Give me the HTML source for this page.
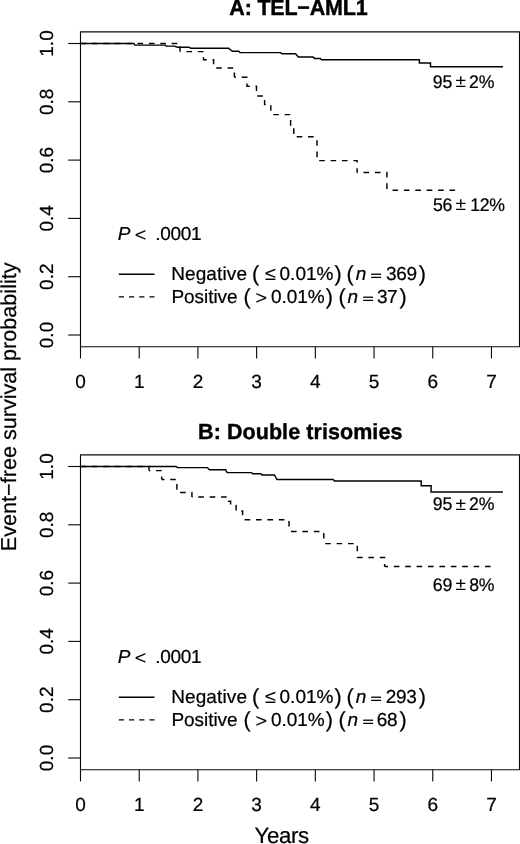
<!DOCTYPE html>
<html><head><meta charset="utf-8"><title>Event-free survival</title>
<style>
html,body{margin:0;padding:0;background:#fff;}
svg{display:block;will-change:transform;}
text{font-family:"Liberation Sans",sans-serif;fill:#000;text-rendering:geometricPrecision;stroke:#000;stroke-width:0.22px;}
</style></head>
<body>
<svg width="520" height="844" viewBox="0 0 520 844">
<rect width="520" height="844" fill="#fff"/>
<path d="M80.5,31.85 H519.5 V346.8 H80.5 Z" fill="none" stroke="#0a0a0a" stroke-width="1.12"/>
<line x1="68.2" y1="43.50" x2="80.5" y2="43.50" stroke="#0a0a0a" stroke-width="1.12"/>
<line x1="68.2" y1="101.80" x2="80.5" y2="101.80" stroke="#0a0a0a" stroke-width="1.12"/>
<line x1="68.2" y1="160.10" x2="80.5" y2="160.10" stroke="#0a0a0a" stroke-width="1.12"/>
<line x1="68.2" y1="218.40" x2="80.5" y2="218.40" stroke="#0a0a0a" stroke-width="1.12"/>
<line x1="68.2" y1="276.70" x2="80.5" y2="276.70" stroke="#0a0a0a" stroke-width="1.12"/>
<line x1="68.2" y1="335.00" x2="80.5" y2="335.00" stroke="#0a0a0a" stroke-width="1.12"/>
<text font-size="19" transform="translate(52.9,43.50) rotate(-90) scale(1,1.0)" text-anchor="middle">1.0</text>
<text font-size="19" transform="translate(52.9,101.80) rotate(-90) scale(1,1.0)" text-anchor="middle">0.8</text>
<text font-size="19" transform="translate(52.9,160.10) rotate(-90) scale(1,1.0)" text-anchor="middle">0.6</text>
<text font-size="19" transform="translate(52.9,218.40) rotate(-90) scale(1,1.0)" text-anchor="middle">0.4</text>
<text font-size="19" transform="translate(52.9,276.70) rotate(-90) scale(1,1.0)" text-anchor="middle">0.2</text>
<text font-size="19" transform="translate(52.9,335.00) rotate(-90) scale(1,1.0)" text-anchor="middle">0.0</text>
<line x1="80.50" y1="346.8" x2="80.50" y2="358.50" stroke="#0a0a0a" stroke-width="1.12"/>
<text font-size="19" transform="translate(80.50,388.25) scale(1,1.0)" text-anchor="middle">0</text>
<line x1="139.21" y1="346.8" x2="139.21" y2="358.50" stroke="#0a0a0a" stroke-width="1.12"/>
<text font-size="19" transform="translate(139.21,388.25) scale(1,1.0)" text-anchor="middle">1</text>
<line x1="197.92" y1="346.8" x2="197.92" y2="358.50" stroke="#0a0a0a" stroke-width="1.12"/>
<text font-size="19" transform="translate(197.92,388.25) scale(1,1.0)" text-anchor="middle">2</text>
<line x1="256.63" y1="346.8" x2="256.63" y2="358.50" stroke="#0a0a0a" stroke-width="1.12"/>
<text font-size="19" transform="translate(256.63,388.25) scale(1,1.0)" text-anchor="middle">3</text>
<line x1="315.34" y1="346.8" x2="315.34" y2="358.50" stroke="#0a0a0a" stroke-width="1.12"/>
<text font-size="19" transform="translate(315.34,388.25) scale(1,1.0)" text-anchor="middle">4</text>
<line x1="374.05" y1="346.8" x2="374.05" y2="358.50" stroke="#0a0a0a" stroke-width="1.12"/>
<text font-size="19" transform="translate(374.05,388.25) scale(1,1.0)" text-anchor="middle">5</text>
<line x1="432.76" y1="346.8" x2="432.76" y2="358.50" stroke="#0a0a0a" stroke-width="1.12"/>
<text font-size="19" transform="translate(432.76,388.25) scale(1,1.0)" text-anchor="middle">6</text>
<line x1="491.47" y1="346.8" x2="491.47" y2="358.50" stroke="#0a0a0a" stroke-width="1.12"/>
<text font-size="19" transform="translate(491.47,388.25) scale(1,1.0)" text-anchor="middle">7</text>
<path d="M80.50,43.50 L133.90,43.50 L134.90,45.10 L165.20,45.10 L166.50,46.10 L174.20,46.10 L177.60,47.30 L189.10,47.30 L191.00,48.30 L228.60,48.30 L232.40,51.30 L238.70,51.30 L240.10,52.60 L280.65,52.60 L282.00,53.80 L295.60,53.80 L298.30,57.00 L313.00,57.00 L314.50,58.40 L320.20,58.40 L321.50,59.70 L419.40,59.70 L419.40,62.90 L430.50,62.90 L430.50,66.70 L503.00,66.70" fill="none" stroke="#000" stroke-width="1.45" stroke-linejoin="miter"/>
<path d="M80.50,43.50 L180.00,43.50 L180.00,51.60" fill="none" stroke="#000" stroke-width="1.45" stroke-dasharray="5.6 5.8" stroke-dashoffset="0.00"/>
<path d="M180.00,51.60 L203.50,51.60 L203.50,59.70 L213.60,59.70 L213.60,68.00" fill="none" stroke="#000" stroke-width="1.45" stroke-dasharray="5.6 5.8" stroke-dashoffset="5.00"/>
<path d="M213.60,68.00 L234.40,68.00 L234.40,77.30" fill="none" stroke="#000" stroke-width="1.45" stroke-dasharray="5.6 5.8" stroke-dashoffset="8.80"/>
<path d="M234.40,77.30 L247.00,77.30 L247.00,86.30 L256.50,86.30 L256.50,95.90 L264.60,95.90 L264.60,104.50 L270.80,104.50 L270.80,114.60" fill="none" stroke="#000" stroke-width="1.45" stroke-dasharray="5.6 5.8" stroke-dashoffset="4.10"/>
<path d="M270.80,114.60 L290.60,114.60 L290.60,126.00 L293.80,126.00 L293.80,136.80" fill="none" stroke="#000" stroke-width="1.45" stroke-dasharray="5.6 5.8" stroke-dashoffset="8.90"/>
<path d="M293.80,136.80 L317.00,136.80" fill="none" stroke="#000" stroke-width="1.45" stroke-dasharray="5.6 5.8" stroke-dashoffset="8.50"/>
<path d="M317.00,136.80 L317.00,160.60" fill="none" stroke="#000" stroke-width="1.45" stroke-dasharray="5.6 5.8" stroke-dashoffset="8.00"/>
<path d="M317.00,160.60 L357.10,160.60 L357.10,172.50" fill="none" stroke="#000" stroke-width="1.45" stroke-dasharray="5.6 5.8" stroke-dashoffset="9.20"/>
<path d="M357.10,172.50 L386.90,172.50 L386.90,190.20" fill="none" stroke="#000" stroke-width="1.45" stroke-dasharray="5.6 5.8" stroke-dashoffset="5.00"/>
<path d="M386.90,190.20 L455.60,190.20" fill="none" stroke="#000" stroke-width="1.45" stroke-dasharray="5.6 5.8" stroke-dashoffset="5.80"/>
<text transform="matrix(1 0 0 1.02 0 -0.305)" x="229.36" y="15.25" font-size="21.5" font-weight="bold" letter-spacing="-0.21" style="stroke-width:0.4px">A: TEL−AML1</text>
<text transform="matrix(1 0 0 1.03 0 -2.625)" x="432.77" y="87.50" font-size="17.67" letter-spacing="-0.18">95</text>
<text transform="matrix(1.08 0 0 1.03 455.51 87.02)" font-size="17.67" style="stroke-width:0.05px">±</text>
<text transform="matrix(1 0 0 1.03 0 -2.625)" x="469.01" y="87.50" font-size="17.67" letter-spacing="-0.02">2%</text>
<text transform="matrix(1 0 0 1.03 0 -6.324)" x="432.89" y="210.80" font-size="17.67" letter-spacing="-0.27">56</text>
<text transform="matrix(1.08 0 0 1.03 455.51 210.32)" font-size="17.67" style="stroke-width:0.05px">±</text>
<text transform="matrix(1 0 0 1.03 0 -6.324)" x="470.26" y="210.80" font-size="17.67" letter-spacing="-0.35">12%</text>
<text transform="matrix(1 0 0 0.99 0 2.398)" x="117.83" y="239.80" font-size="19" font-style="italic">P</text>
<text transform="matrix(1.04 0 0 0.98 134.73 240.83)" font-size="19" style="stroke-width:0.15px">&lt;</text>
<text transform="matrix(1 0 0 0.99 0 2.398)" x="155.37" y="239.80" font-size="19" letter-spacing="-0.35">.0001</text>
<line x1="118.8" y1="274.2" x2="154.5" y2="274.2" stroke="#000" stroke-width="1.35"/>
<line x1="118.8" y1="296.9" x2="154.5" y2="296.9" stroke="#000" stroke-width="1.35" stroke-dasharray="5.2 5.0"/>
<text transform="matrix(1 0 0 0.99 0 2.802)" x="171.14" y="280.20" font-size="19" letter-spacing="0.13">Negative</text>
<text transform="matrix(1 0 0 1.0 0 0.000)" x="251.95" y="280.50" font-size="21.6">(</text>
<text transform="matrix(1.04 0 0 0.98 264.98 280.30)" font-size="19" style="stroke-width:0.15px">≤</text>
<text transform="matrix(1 0 0 0.99 0 2.802)" x="279.56" y="280.20" font-size="19" letter-spacing="0.01">0.01%</text>
<text transform="matrix(1 0 0 1.0 0 0.000)" x="334.46" y="280.50" font-size="21.6">)</text>
<text transform="matrix(1 0 0 1.0 0 0.000)" x="346.50" y="280.50" font-size="21.6">(</text>
<text transform="matrix(1 0 0 0.99 0 2.802)" x="355.64" y="280.20" font-size="19" font-style="italic">n</text>
<text transform="matrix(1.02 0 0 0.66 370.45 279.93)" font-size="19" style="stroke-width:0.5px">=</text>
<text transform="matrix(1 0 0 0.99 0 2.802)" x="385.99" y="280.20" font-size="19" letter-spacing="-0.35">369</text>
<text transform="matrix(1 0 0 1.0 0 0.000)" x="418.71" y="280.50" font-size="21.6">)</text>
<text transform="matrix(1 0 0 0.99 0 3.032)" x="171.44" y="303.20" font-size="19" letter-spacing="-0.06">Positive</text>
<text transform="matrix(1 0 0 1.0 0 0.000)" x="243.50" y="303.50" font-size="21.6">(</text>
<text transform="matrix(1.04 0 0 0.98 255.43 303.93)" font-size="19" style="stroke-width:0.15px">&gt;</text>
<text transform="matrix(1 0 0 0.99 0 3.032)" x="271.06" y="303.20" font-size="19" letter-spacing="-0.06">0.01%</text>
<text transform="matrix(1 0 0 1.0 0 0.000)" x="325.66" y="303.50" font-size="21.6">)</text>
<text transform="matrix(1 0 0 1.0 0 0.000)" x="338.40" y="303.50" font-size="21.6">(</text>
<text transform="matrix(1 0 0 0.99 0 3.032)" x="347.49" y="303.20" font-size="19" font-style="italic">n</text>
<text transform="matrix(1.02 0 0 0.66 362.40 302.93)" font-size="19" style="stroke-width:0.5px">=</text>
<text transform="matrix(1 0 0 0.99 0 3.032)" x="376.92" y="303.20" font-size="19" letter-spacing="-0.35">37</text>
<text transform="matrix(1 0 0 1.0 0 0.000)" x="399.41" y="303.50" font-size="21.6">)</text>
<path d="M80.5,454.85 H519.5 V769.8 H80.5 Z" fill="none" stroke="#0a0a0a" stroke-width="1.12"/>
<line x1="68.2" y1="466.50" x2="80.5" y2="466.50" stroke="#0a0a0a" stroke-width="1.12"/>
<line x1="68.2" y1="524.80" x2="80.5" y2="524.80" stroke="#0a0a0a" stroke-width="1.12"/>
<line x1="68.2" y1="583.10" x2="80.5" y2="583.10" stroke="#0a0a0a" stroke-width="1.12"/>
<line x1="68.2" y1="641.40" x2="80.5" y2="641.40" stroke="#0a0a0a" stroke-width="1.12"/>
<line x1="68.2" y1="699.70" x2="80.5" y2="699.70" stroke="#0a0a0a" stroke-width="1.12"/>
<line x1="68.2" y1="758.00" x2="80.5" y2="758.00" stroke="#0a0a0a" stroke-width="1.12"/>
<text font-size="19" transform="translate(52.9,466.50) rotate(-90) scale(1,1.0)" text-anchor="middle">1.0</text>
<text font-size="19" transform="translate(52.9,524.80) rotate(-90) scale(1,1.0)" text-anchor="middle">0.8</text>
<text font-size="19" transform="translate(52.9,583.10) rotate(-90) scale(1,1.0)" text-anchor="middle">0.6</text>
<text font-size="19" transform="translate(52.9,641.40) rotate(-90) scale(1,1.0)" text-anchor="middle">0.4</text>
<text font-size="19" transform="translate(52.9,699.70) rotate(-90) scale(1,1.0)" text-anchor="middle">0.2</text>
<text font-size="19" transform="translate(52.9,758.00) rotate(-90) scale(1,1.0)" text-anchor="middle">0.0</text>
<line x1="80.50" y1="769.8" x2="80.50" y2="781.50" stroke="#0a0a0a" stroke-width="1.12"/>
<text font-size="19" transform="translate(80.50,811.25) scale(1,1.0)" text-anchor="middle">0</text>
<line x1="139.21" y1="769.8" x2="139.21" y2="781.50" stroke="#0a0a0a" stroke-width="1.12"/>
<text font-size="19" transform="translate(139.21,811.25) scale(1,1.0)" text-anchor="middle">1</text>
<line x1="197.92" y1="769.8" x2="197.92" y2="781.50" stroke="#0a0a0a" stroke-width="1.12"/>
<text font-size="19" transform="translate(197.92,811.25) scale(1,1.0)" text-anchor="middle">2</text>
<line x1="256.63" y1="769.8" x2="256.63" y2="781.50" stroke="#0a0a0a" stroke-width="1.12"/>
<text font-size="19" transform="translate(256.63,811.25) scale(1,1.0)" text-anchor="middle">3</text>
<line x1="315.34" y1="769.8" x2="315.34" y2="781.50" stroke="#0a0a0a" stroke-width="1.12"/>
<text font-size="19" transform="translate(315.34,811.25) scale(1,1.0)" text-anchor="middle">4</text>
<line x1="374.05" y1="769.8" x2="374.05" y2="781.50" stroke="#0a0a0a" stroke-width="1.12"/>
<text font-size="19" transform="translate(374.05,811.25) scale(1,1.0)" text-anchor="middle">5</text>
<line x1="432.76" y1="769.8" x2="432.76" y2="781.50" stroke="#0a0a0a" stroke-width="1.12"/>
<text font-size="19" transform="translate(432.76,811.25) scale(1,1.0)" text-anchor="middle">6</text>
<line x1="491.47" y1="769.8" x2="491.47" y2="781.50" stroke="#0a0a0a" stroke-width="1.12"/>
<text font-size="19" transform="translate(491.47,811.25) scale(1,1.0)" text-anchor="middle">7</text>
<path d="M80.50,466.40 L176.00,466.40 L177.50,467.60 L207.40,467.60 L209.40,469.80 L225.60,469.80 L227.20,472.60 L251.50,472.60 L252.70,473.80 L260.80,473.80 L262.00,474.90 L274.40,474.90 L277.10,479.50 L333.10,479.50 L334.50,481.05 L400.00,481.05 L421.20,481.05 L421.20,485.75 L431.10,485.75 L431.10,491.90 L503.00,491.90" fill="none" stroke="#000" stroke-width="1.45" stroke-linejoin="miter"/>
<path d="M80.50,466.40 L149.00,466.40 L149.00,470.60" fill="none" stroke="#000" stroke-width="1.45" stroke-dasharray="5.6 5.8" stroke-dashoffset="0.00"/>
<path d="M149.00,470.60 L161.70,470.60 L161.70,479.40" fill="none" stroke="#000" stroke-width="1.45" stroke-dasharray="5.6 5.8" stroke-dashoffset="4.30"/>
<path d="M161.70,479.40 L176.90,479.40 L176.90,492.40" fill="none" stroke="#000" stroke-width="1.45" stroke-dasharray="5.6 5.8" stroke-dashoffset="2.90"/>
<path d="M176.90,492.40 L191.90,492.40 L191.90,497.00" fill="none" stroke="#000" stroke-width="1.45" stroke-dasharray="5.6 5.8" stroke-dashoffset="8.20"/>
<path d="M191.90,497.00 L228.50,497.00 L228.50,501.20 L230.60,501.20 L230.60,505.40 L236.10,505.40 L236.10,511.00 L242.60,511.00 L242.60,519.80" fill="none" stroke="#000" stroke-width="1.45" stroke-dasharray="5.6 5.8" stroke-dashoffset="5.00"/>
<path d="M242.60,519.80 L289.00,519.80 L289.00,531.50" fill="none" stroke="#000" stroke-width="1.45" stroke-dasharray="5.6 5.8" stroke-dashoffset="9.40"/>
<path d="M289.00,531.50 L323.80,531.50 L323.80,543.60" fill="none" stroke="#000" stroke-width="1.45" stroke-dasharray="5.6 5.8" stroke-dashoffset="9.40"/>
<path d="M323.80,543.60 L357.30,543.60 L357.30,557.50" fill="none" stroke="#000" stroke-width="1.45" stroke-dasharray="5.6 5.8" stroke-dashoffset="10.00"/>
<path d="M357.30,557.50 L384.60,557.50 L384.60,566.50" fill="none" stroke="#000" stroke-width="1.45" stroke-dasharray="5.6 5.8" stroke-dashoffset="0.30"/>
<path d="M384.60,566.50 L490.90,566.50" fill="none" stroke="#000" stroke-width="1.45" stroke-dasharray="5.6 5.8" stroke-dashoffset="2.20"/>
<text transform="matrix(1 0 0 1.02 0 -8.773)" x="198.06" y="438.65" font-size="21.5" font-weight="bold" letter-spacing="0.07" style="stroke-width:0.4px">B: Double trisomies</text>
<text transform="matrix(1 0 0 1.03 0 -15.300)" x="432.77" y="510.00" font-size="17.67" letter-spacing="-0.18">95</text>
<text transform="matrix(1.08 0 0 1.03 455.51 509.52)" font-size="17.67" style="stroke-width:0.05px">±</text>
<text transform="matrix(1 0 0 1.03 0 -15.300)" x="469.01" y="510.00" font-size="17.67" letter-spacing="-0.02">2%</text>
<text transform="matrix(1 0 0 1.03 0 -17.721)" x="432.70" y="590.70" font-size="17.67" letter-spacing="-0.02">69</text>
<text transform="matrix(1.08 0 0 1.03 455.51 590.22)" font-size="17.67" style="stroke-width:0.05px">±</text>
<text transform="matrix(1 0 0 1.03 0 -17.721)" x="469.13" y="590.70" font-size="17.67" letter-spacing="-0.14">8%</text>
<text transform="matrix(1 0 0 0.99 0 6.628)" x="117.83" y="662.80" font-size="19" font-style="italic">P</text>
<text transform="matrix(1.04 0 0 0.98 134.73 663.83)" font-size="19" style="stroke-width:0.15px">&lt;</text>
<text transform="matrix(1 0 0 0.99 0 6.628)" x="155.37" y="662.80" font-size="19" letter-spacing="-0.35">.0001</text>
<line x1="118.8" y1="697.2" x2="154.5" y2="697.2" stroke="#000" stroke-width="1.35"/>
<line x1="118.8" y1="719.9" x2="154.5" y2="719.9" stroke="#000" stroke-width="1.35" stroke-dasharray="5.2 5.0"/>
<text transform="matrix(1 0 0 0.99 0 7.032)" x="171.14" y="703.20" font-size="19" letter-spacing="0.13">Negative</text>
<text transform="matrix(1 0 0 1.0 0 0.000)" x="251.95" y="703.50" font-size="21.6">(</text>
<text transform="matrix(1.04 0 0 0.98 264.98 703.30)" font-size="19" style="stroke-width:0.15px">≤</text>
<text transform="matrix(1 0 0 0.99 0 7.032)" x="279.56" y="703.20" font-size="19" letter-spacing="0.01">0.01%</text>
<text transform="matrix(1 0 0 1.0 0 0.000)" x="334.46" y="703.50" font-size="21.6">)</text>
<text transform="matrix(1 0 0 1.0 0 0.000)" x="346.50" y="703.50" font-size="21.6">(</text>
<text transform="matrix(1 0 0 0.99 0 7.032)" x="355.64" y="703.20" font-size="19" font-style="italic">n</text>
<text transform="matrix(1.02 0 0 0.66 370.45 702.93)" font-size="19" style="stroke-width:0.5px">=</text>
<text transform="matrix(1 0 0 0.99 0 7.032)" x="385.84" y="703.20" font-size="19" letter-spacing="-0.35">293</text>
<text transform="matrix(1 0 0 1.0 0 0.000)" x="418.71" y="703.50" font-size="21.6">)</text>
<text transform="matrix(1 0 0 0.99 0 7.262)" x="171.44" y="726.20" font-size="19" letter-spacing="-0.06">Positive</text>
<text transform="matrix(1 0 0 1.0 0 0.000)" x="243.50" y="726.50" font-size="21.6">(</text>
<text transform="matrix(1.04 0 0 0.98 255.43 726.93)" font-size="19" style="stroke-width:0.15px">&gt;</text>
<text transform="matrix(1 0 0 0.99 0 7.262)" x="271.06" y="726.20" font-size="19" letter-spacing="-0.06">0.01%</text>
<text transform="matrix(1 0 0 1.0 0 0.000)" x="325.66" y="726.50" font-size="21.6">)</text>
<text transform="matrix(1 0 0 1.0 0 0.000)" x="338.40" y="726.50" font-size="21.6">(</text>
<text transform="matrix(1 0 0 0.99 0 7.262)" x="347.49" y="726.20" font-size="19" font-style="italic">n</text>
<text transform="matrix(1.02 0 0 0.66 362.40 725.93)" font-size="19" style="stroke-width:0.5px">=</text>
<text transform="matrix(1 0 0 0.99 0 7.262)" x="376.74" y="726.20" font-size="19" letter-spacing="-0.35">68</text>
<text transform="matrix(1 0 0 1.0 0 0.000)" x="399.41" y="726.50" font-size="21.6">)</text>
<text font-size="21.6" transform="translate(16.1,406.8) rotate(-90) scale(1,1.0)" text-anchor="middle">Event−free survival probability</text>
<text transform="matrix(1 0 0 1.0 0 0.000)" x="254.56" y="843.30" font-size="22.2" letter-spacing="-0.35">Years</text>
</svg>
</body></html>
